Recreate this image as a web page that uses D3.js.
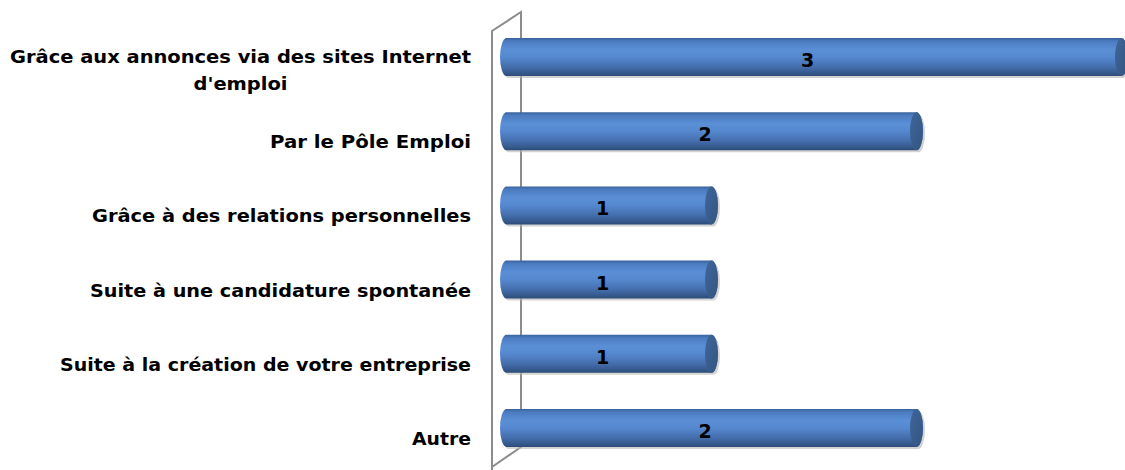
<!DOCTYPE html>
<html><head><meta charset="utf-8">
<script src="https://cdn.jsdelivr.net/npm/d3@7"></script>
<style>html,body{margin:0;padding:0;background:#fff;}svg{display:block;}</style>
</head><body>
<svg id="c" width="1125" height="470"></svg>
<script>
const categories = [
  ["Grâce aux annonces via des sites Internet", "d'emploi"],
  ["Par le Pôle Emploi"],
  ["Grâce à des relations personnelles"],
  ["Suite à une candidature spontanée"],
  ["Suite à la création de votre entreprise"],
  ["Autre"]
];
const values = [3, 2, 1, 1, 1, 2];
const labelWidths = [461, 201, 379, 381, 411, 59];

const svg = d3.select("#c");
const defs = svg.append("defs");
const g1 = defs.append("linearGradient").attr("id","body").attr("x1",0).attr("y1",0).attr("x2",0).attr("y2",1);
[[0,"#3a629c"],[0.08,"#4b7bbf"],[0.3,"#5a8fd6"],[0.5,"#5588cf"],[0.75,"#456fae"],[0.92,"#35598c"],[1,"#2d4b78"]]
  .forEach(([o,c])=>g1.append("stop").attr("offset",o).attr("stop-color",c));
const g2 = defs.append("linearGradient").attr("id","cap").attr("x1",0).attr("y1",0).attr("x2",1).attr("y2",1);
[[0,"#3f659a"],[1,"#33557f"]].forEach(([o,c])=>g2.append("stop").attr("offset",o).attr("stop-color",c));

const idx = d3.range(categories.length);
const y = d3.scaleBand().domain(idx).range([20, 465]).paddingInner(0).paddingOuter(0);
const x = d3.scaleLinear().domain([0, 3]).range([506.5, 1121.5]);
const bh = 38, rx = 6.5, ry = bh/2;

// wall
svg.append("path")
  .attr("d","M492,470 L492,31 L521,12 L521,447 L492,467")
  .attr("fill","none").attr("stroke","#8c8c8c").attr("stroke-width",2);

const bars = svg.append("g").selectAll("g").data(idx).join("g");

function bodyPath(i, dx, dy){
  const cy = y(i) + y.bandwidth()/2 + dy;
  const x0 = x(0) + dx, x1 = x(values[i]) + dx;
  const t = cy - ry, b = cy + ry;
  return `M${x0},${t} L${x1},${t} A${rx},${ry} 0 0 1 ${x1},${b} L${x0},${b} A${rx},${ry} 0 0 1 ${x0},${t} Z`;
}
bars.append("path").attr("d", i => bodyPath(i, 2, 2)).attr("fill","#b5b5b5").attr("opacity",0.6);
bars.append("path").attr("d", i => bodyPath(i, 0, 0)).attr("fill","url(#body)");
bars.append("ellipse")
  .attr("cx", i => x(values[i]))
  .attr("cy", i => y(i) + y.bandwidth()/2)
  .attr("rx", rx).attr("ry", ry)
  .attr("fill","url(#cap)");

bars.append("text")
  .attr("x", i => ((x(0) - rx) + (x(values[i]) - rx)) / 2)
  .attr("y", i => y(i) + y.bandwidth()/2 + 10)
  .attr("text-anchor","middle")
  .attr("font-family","DejaVu Sans")
  .attr("font-weight","bold")
  .attr("font-size",19)
  .attr("fill","#000")
  .text(i => values[i]);

// category labels
const labCenterX = 240.5, labRight = 471;
const labs = svg.append("g").selectAll("text").data(idx).join("text")
  .attr("font-family","DejaVu Sans")
  .attr("font-weight","bold")
  .attr("font-size",17)
  .attr("fill","#000");
labs.each(function(i){
  const lines = categories[i];
  const t = d3.select(this);
  const cy = y(i) + y.bandwidth()/2;
  if (lines.length === 1) {
    t.append("tspan").attr("x", labRight).attr("y", cy + 17)
      .attr("text-anchor","end")
      .attr("textLength", labelWidths[i]).attr("lengthAdjust","spacingAndGlyphs")
      .text(lines[0]);
  } else {
    t.append("tspan").attr("x", labCenterX).attr("y", cy + 6)
      .attr("text-anchor","middle")
      .attr("textLength", labelWidths[i]).attr("lengthAdjust","spacingAndGlyphs")
      .text(lines[0]);
    t.append("tspan").attr("x", labCenterX).attr("y", cy + 33)
      .attr("text-anchor","middle")
      .attr("textLength", 94).attr("lengthAdjust","spacingAndGlyphs")
      .text(lines[1]);
  }
});
</script>
</body></html>
